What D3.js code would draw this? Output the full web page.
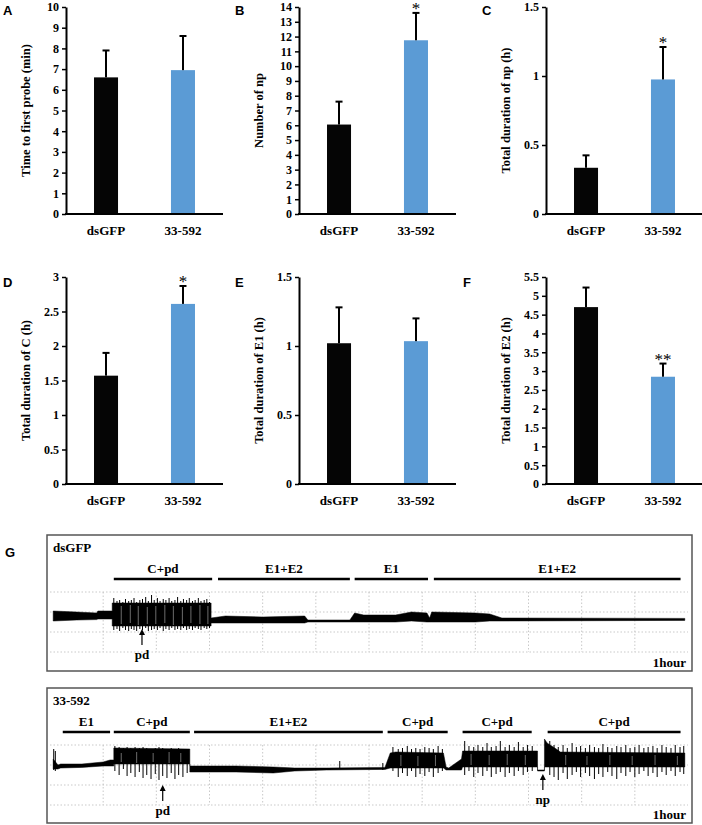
<!DOCTYPE html>
<html>
<head>
<meta charset="utf-8">
<script src="https://cdn.jsdelivr.net/npm/d3@7"></script>
<style>
body { margin: 0; background: #fff; }
svg { display: block; }
</style>
</head>
<body>
<div class="chart"></div>
<script>
// bar panels A-F
const groups = ["dsGFP", "33-592"];
const barColors = ["#050505", "#5b9bd5"];

const firstProbe = [6.6, 6.95];
const firstProbeErr = [1.3, 1.65];
const npCount = [6.05, 11.75];
const npCountErr = [1.55, 1.85];
const npDuration = [0.335, 0.975];
const npDurationErr = [0.09, 0.235];
const cDuration = [1.57, 2.61];
const cDurationErr = [0.33, 0.26];
const e1Duration = [1.02, 1.035];
const e1DurationErr = [0.26, 0.165];
const e2Duration = [4.7, 2.85];
const e2DurationErr = [0.52, 0.35];

const ticksA = [0, 1, 2, 3, 4, 5, 6, 7, 8, 9, 10];
const ticksB = [0, 1, 2, 3, 4, 5, 6, 7, 8, 9, 10, 11, 12, 13, 14];
const ticksC = [0, 0.5, 1, 1.5];
const ticksD = [0, 0.5, 1, 1.5, 2, 2.5, 3];
const ticksE = [0, 0.5, 1, 1.5];
const ticksF = [0, 0.5, 1, 1.5, 2, 2.5, 3, 3.5, 4, 4.5, 5, 5.5];

const starsA = ["", ""];
const starsB = ["", "*"];
const starsC = ["", "*"];
const starsD = ["", "*"];
const starsE = ["", ""];
const starsF = ["", "**"];

// panel G: EPG traces, time in hours, signal in grid units
const hourGrid = [1, 2, 3, 4, 5, 6, 7, 8, 9, 10, 11];
const levelGrid = [1, 0, -1, -2];

const phasesCtrl = [["C+pd", 1.2, 3.05], ["E1+E2", 3.16, 5.64], ["E1", 5.73, 7.11], ["E1+E2", 7.22, 11.86]];
const phasesKd = [["E1", 0.24, 1.13], ["C+pd", 1.2, 2.63], ["E1+E2", 2.71, 6.26], ["C+pd", 6.35, 7.48], ["C+pd", 7.76, 9.06], ["C+pd", 9.36, 11.86]];

// [t, top, bottom]
const envCtrl = [
	[0.06, 0.05, -0.45], [0.5, 0.0, -0.4], [0.88, -0.05, -0.38],
	[0.9, 0.05, -0.35], [1.17, 0.05, -0.35], [1.17, 0.45, -0.7], [3.03, 0.45, -0.7],
	[3.03, -0.3, -0.55], [3.3, -0.2, -0.55], [4.0, -0.25, -0.55], [4.79, -0.2, -0.55],
	[4.85, -0.4, -0.5], [5.64, -0.4, -0.5], [5.73, -0.05, -0.5], [5.9, -0.15, -0.5], [6.5, -0.15, -0.5],
	[6.8, 0.0, -0.45], [7.09, -0.05, -0.5], [7.14, -0.3, -0.5], [7.18, 0.0, -0.5],
	[8.0, -0.05, -0.5], [8.27, -0.1, -0.45], [8.5, -0.3, -0.45], [11.94, -0.32, -0.42]
];
const spikesCtrl = [
	[1.2, 0.7, -0.9], [1.26, 0.55, -0.85], [1.31, 0.6, -0.95], [1.37, 0.5, -0.8], [1.42, 0.65, -0.9],
	[1.48, 0.55, -0.95], [1.53, 0.6, -0.85], [1.58, 0.7, -0.9], [1.63, 0.5, -0.95], [1.69, 0.6, -0.85],
	[1.74, 0.65, -0.9], [1.8, 0.75, -0.8], [1.85, 0.55, -0.95], [1.91, 0.85, -0.9], [1.96, 0.6, -0.85],
	[2.02, 0.7, -0.9], [2.07, 0.55, -0.8], [2.13, 0.65, -0.95], [2.18, 0.6, -0.85], [2.24, 0.7, -0.9],
	[2.29, 0.55, -0.8], [2.35, 0.6, -0.9], [2.4, 0.75, -0.85], [2.46, 0.55, -0.9], [2.51, 0.65, -0.8],
	[2.57, 0.6, -0.9], [2.62, 0.7, -0.85], [2.68, 0.55, -0.9], [2.73, 0.6, -0.8], [2.79, 0.7, -0.85],
	[2.84, 0.55, -0.9], [2.9, 0.6, -0.8], [2.95, 0.65, -0.85], [3.0, 0.5, -0.8]
];
// lighter streaks inside the C+pd block
const streaksCtrl = [
	[1.34, 0.3, -0.6], [1.51, 0.35, -0.55], [1.66, 0.3, -0.65], [1.83, 0.25, -0.6], [1.99, 0.3, -0.6],
	[2.16, 0.35, -0.55], [2.32, 0.3, -0.65], [2.49, 0.25, -0.6], [2.65, 0.3, -0.55], [2.82, 0.35, -0.6],
	[2.97, 0.3, -0.6]
];

const envKd = [
	[0.06, 0.3, -0.2], [0.15, 0.0, -0.2], [0.2, 0.05, -0.15], [0.6, 0.05, -0.12],
	[1.0, 0.15, -0.05], [1.13, 0.25, -0.05], [1.2, 0.25, -0.05], [1.2, 0.85, 0.05],
	[2.63, 0.8, 0.05], [2.63, -0.05, -0.35], [3.5, -0.05, -0.35], [4.2, -0.1, -0.4],
	[4.6, -0.15, -0.3], [5.2, -0.15, -0.25], [6.3, -0.12, -0.22], [6.4, 0.6, -0.15],
	[6.5, 0.65, -0.15], [7.4, 0.6, -0.15], [7.45, -0.1, -0.25], [7.5, -0.15, -0.25],
	[7.74, 0.3, -0.25], [7.76, 0.7, -0.1], [9.17, 0.7, -0.1], [9.17, -0.25, -0.3],
	[9.3, -0.25, -0.3], [9.3, 1.3, -0.1], [9.35, 1.1, -0.1], [9.55, 0.75, -0.1],
	[9.6, 0.65, -0.1], [11.94, 0.6, -0.1]
];
const spikesKd = [
	[0.07, 0.8, -0.25], [0.1, 0.7, -0.3],
	[1.22, 0.95, -0.3], [1.3, 0.9, -0.5], [1.38, 0.85, -0.2], [1.45, 0.9, -0.55], [1.52, 0.85, -0.4],
	[1.6, 0.9, -0.6], [1.68, 0.85, -0.35], [1.75, 0.9, -0.65], [1.82, 0.85, -0.5], [1.9, 0.8, -0.7],
	[1.98, 0.85, -0.45], [2.05, 0.9, -0.75], [2.12, 0.85, -0.55], [2.2, 0.8, -0.65], [2.28, 0.85, -0.4],
	[2.35, 0.8, -0.7], [2.42, 0.85, -0.5], [2.5, 0.8, -0.6], [2.58, 0.8, -0.4],
	[5.45, 0.2, -0.2], [6.26, 0.1, -0.25],
	[6.45, 0.9, -0.3], [6.55, 0.8, -0.6], [6.63, 0.85, -0.4], [6.72, 0.95, -0.55], [6.8, 0.8, -0.3],
	[6.88, 0.85, -0.6], [6.96, 0.8, -0.45], [7.05, 0.9, -0.55], [7.13, 0.85, -0.35], [7.21, 0.8, -0.6],
	[7.3, 0.95, -0.4], [7.38, 0.8, -0.3],
	[7.8, 1.2, -0.5], [7.88, 0.95, -0.3], [7.97, 0.9, -0.6], [8.05, 1.0, -0.4], [8.14, 0.9, -0.55],
	[8.22, 1.1, -0.3], [8.3, 0.9, -0.6], [8.39, 0.95, -0.45], [8.47, 1.2, -0.35], [8.56, 0.9, -0.6],
	[8.64, 1.0, -0.4], [8.73, 0.9, -0.55], [8.81, 1.15, -0.3], [8.9, 0.9, -0.5], [8.98, 1.0, -0.35],
	[9.07, 0.95, -0.3],
	[9.4, 1.2, -0.5], [9.48, 1.0, -0.6], [9.56, 0.9, -0.75], [9.65, 1.0, -0.4], [9.73, 0.85, -0.7],
	[9.82, 1.1, -0.5], [9.9, 0.9, -0.35], [9.98, 0.95, -0.6], [10.07, 0.85, -0.4], [10.15, 1.0, -0.55],
	[10.24, 0.9, -0.7], [10.32, 0.85, -0.45], [10.4, 1.05, -0.6], [10.49, 0.9, -0.35], [10.57, 0.85, -0.55],
	[10.66, 0.95, -0.7], [10.74, 0.9, -0.4], [10.83, 1.0, -0.55], [10.91, 0.85, -0.35], [11.0, 0.9, -0.6],
	[11.08, 1.0, -0.45], [11.17, 0.85, -0.3], [11.25, 0.9, -0.55], [11.34, 0.95, -0.4], [11.42, 0.85, -0.6],
	[11.51, 1.0, -0.35], [11.59, 0.9, -0.5], [11.68, 0.85, -0.3], [11.76, 1.0, -0.55], [11.85, 0.9, -0.35],
	[11.92, 0.95, -0.45]
];
const streaksKd = [
	[1.34, 0.6, 0.15], [1.63, 0.65, 0.1], [1.94, 0.6, 0.15], [2.24, 0.65, 0.1], [2.46, 0.6, 0.15],
	[6.6, 0.5, -0.05], [6.92, 0.45, -0.05], [7.25, 0.5, -0.05],
	[7.92, 0.55, 0.0], [8.26, 0.5, 0.0], [8.6, 0.55, 0.0], [8.94, 0.5, 0.0],
	[9.7, 0.5, 0.0], [10.1, 0.45, 0.0], [10.53, 0.5, 0.0], [10.95, 0.45, 0.0], [11.38, 0.5, 0.0], [11.8, 0.45, 0.0]
];

// arrows: [label, t, head level]
const marksCtrl = [["pd", 1.73, -0.85]];
const marksKd = [["pd", 2.12, -1.0], ["np", 9.27, -0.45]];

const serifFont = '"Liberation Serif", "Times New Roman", "DejaVu Serif", serif';
const sansFont = '"Liberation Sans", Arial, sans-serif';

const width = 702;
const height = 825;
const svg = d3.select(".chart")
	.append("svg")
	.attr("width", width)
	.attr("height", height);

const boldSerif = (sel, size) => sel
	.style("font-family", serifFont)
	.style("font-weight", "bold")
	.style("font-size", `${size}px`)
	.attr("fill", "#000");

const panels = [
	{ letter: "A", lx: 3, title: "Time to first probe (min)", values: firstProbe, errors: firstProbeErr, ticks: ticksA, stars: starsA, col: 0, row: 0 },
	{ letter: "B", lx: 235, title: "Number of np", values: npCount, errors: npCountErr, ticks: ticksB, stars: starsB, col: 1, row: 0 },
	{ letter: "C", lx: 482, title: "Total duration of np (h)", values: npDuration, errors: npDurationErr, ticks: ticksC, stars: starsC, col: 2, row: 0 },
	{ letter: "D", lx: 3, title: "Total duration of C (h)", values: cDuration, errors: cDurationErr, ticks: ticksD, stars: starsD, col: 0, row: 1 },
	{ letter: "E", lx: 235, title: "Total duration of E1 (h)", values: e1Duration, errors: e1DurationErr, ticks: ticksE, stars: starsE, col: 1, row: 1 },
	{ letter: "F", lx: 463, title: "Total duration of E2 (h)", values: e2Duration, errors: e2DurationErr, ticks: ticksF, stars: starsF, col: 2, row: 1 }
];
const colX = [66, 299, 546];
const rowBase = [214, 484];
const axisH = 207;
const axisW = 157;

panels.forEach((p) => {
	const x0 = colX[p.col];
	const base = rowBase[p.row];
	const g = svg.append("g");

	const y = d3.scaleLinear()
		.domain([0, d3.max(p.ticks)])
		.range([base, base - axisH]);
	const x = d3.scaleBand()
		.domain(groups)
		.range([x0, x0 + axisW])
		.paddingInner(0.688)
		.paddingOuter(0.364);
	const cx = (i) => x(groups[i]) + x.bandwidth() / 2;

	g.append("text")
		.attr("x", p.lx)
		.attr("y", base - axisH + 8 + (p.row ? 2 : 0))
		.style("font-family", sansFont)
		.style("font-weight", "bold")
		.style("font-size", "13px")
		.text(p.letter);

	// bars
	g.selectAll("rect")
		.data(p.values)
		.enter()
		.append("rect")
			.attr("x", (d, i) => x(groups[i]))
			.attr("y", (d) => y(d))
			.attr("width", x.bandwidth())
			.attr("height", (d) => base - y(d))
			.attr("fill", (d, i) => barColors[i]);

	// error bars
	const err = g.selectAll("g.err")
		.data(p.values)
		.enter()
		.append("g")
			.attr("class", "err")
			.attr("stroke", "#000")
			.attr("stroke-width", 2);
	err.append("line")
		.attr("x1", (d, i) => cx(i))
		.attr("x2", (d, i) => cx(i))
		.attr("y1", (d) => y(d))
		.attr("y2", (d, i) => y(d + p.errors[i]));
	err.append("line")
		.attr("x1", (d, i) => cx(i) - 3.5)
		.attr("x2", (d, i) => cx(i) + 3.5)
		.attr("y1", (d, i) => y(d + p.errors[i]))
		.attr("y2", (d, i) => y(d + p.errors[i]));

	g.selectAll("text.star")
		.data(p.stars)
		.enter()
		.append("text")
			.attr("class", "star")
			.attr("x", (d, i) => cx(i))
			.attr("y", (d, i) => y(p.values[i] + p.errors[i]) + 1)
			.attr("text-anchor", "middle")
			.style("font-family", serifFont)
			.style("font-size", "17px")
			.text((d) => d);

	// y axis
	const ya = g.append("g")
		.attr("transform", `translate(${x0},0)`)
		.call(d3.axisLeft(y).tickValues(p.ticks).tickSize(4).tickSizeOuter(0).tickPadding(3).tickFormat((d) => d));
	ya.select(".domain").attr("stroke-width", 2);
	ya.selectAll(".tick line").attr("stroke-width", 1.5);
	ya.selectAll(".tick text").call(boldSerif, 12);

	// x axis line and labels
	g.append("line")
		.attr("x1", x0 - 1)
		.attr("x2", x0 + axisW)
		.attr("y1", base)
		.attr("y2", base)
		.attr("stroke", "#000")
		.attr("stroke-width", 2);
	g.selectAll("text.cat")
		.data(groups)
		.enter()
		.append("text")
			.attr("class", "cat")
			.attr("x", (d, i) => cx(i))
			.attr("y", base + 21)
			.attr("text-anchor", "middle")
			.call(boldSerif, 13)
			.text((d) => d);

	g.append("text")
		.attr("transform", `translate(${x0 - 36},${base - axisH / 2}) rotate(-90)`)
		.attr("text-anchor", "middle")
		.call(boldSerif, 12.5)
		.text(p.title);
});

// panel G
svg.append("text")
	.attr("x", 5)
	.attr("y", 557)
	.style("font-family", sansFont)
	.style("font-weight", "bold")
	.style("font-size", "13px")
	.text("G");

const tScale = d3.scaleLinear().domain([0, 12]).range([50, 688]);

const drawTrace = (top, bottom, name, phases, env, spikes, streaks, marks) => {
	const g = svg.append("g");
	const y = d3.scaleLinear().domain([-2, 1]).range([top + 117, top + 57]);

	g.append("rect")
		.attr("x", 47)
		.attr("y", top)
		.attr("width", 645)
		.attr("height", bottom - top)
		.attr("fill", "none")
		.attr("stroke", "#555")
		.attr("stroke-width", 1.5);

	// dotted grid
	g.selectAll("line.h")
		.data(levelGrid)
		.enter()
		.append("line")
			.attr("x1", tScale(0))
			.attr("x2", tScale(12))
			.attr("y1", (d) => y(d))
			.attr("y2", (d) => y(d))
			.attr("stroke", "#bbb")
			.attr("stroke-width", 0.8)
			.attr("stroke-dasharray", "1.5,2");
	g.selectAll("line.v")
		.data(hourGrid)
		.enter()
		.append("line")
			.attr("x1", (d) => tScale(d))
			.attr("x2", (d) => tScale(d))
			.attr("y1", y(1))
			.attr("y2", y(-2))
			.attr("stroke", "#bbb")
			.attr("stroke-width", 0.8)
			.attr("stroke-dasharray", "1.5,2");

	g.append("text")
		.attr("x", 53)
		.attr("y", top + 17)
		.call(boldSerif, 13)
		.text(name);

	// phase bars
	const ph = g.selectAll("g.phase")
		.data(phases)
		.enter()
		.append("g");
	ph.append("line")
		.attr("x1", (d) => tScale(d[1]))
		.attr("x2", (d) => tScale(d[2]))
		.attr("y1", top + 44)
		.attr("y2", top + 44)
		.attr("stroke", "#000")
		.attr("stroke-width", 2.5);
	ph.append("text")
		.attr("x", (d) => tScale((d[1] + d[2]) / 2))
		.attr("y", top + 38)
		.attr("text-anchor", "middle")
		.call(boldSerif, 13)
		.text((d) => d[0]);

	// signal
	const area = d3.area()
		.x((d) => tScale(d[0]))
		.y0((d) => y(d[2]))
		.y1((d) => y(d[1]));
	g.append("path")
		.datum(env)
		.attr("d", area)
		.attr("fill", "#000")
		.attr("stroke", "#000")
		.attr("stroke-width", 0.5);
	g.selectAll("line.spike")
		.data(spikes)
		.enter()
		.append("line")
			.attr("x1", (d) => tScale(d[0]))
			.attr("x2", (d) => tScale(d[0]))
			.attr("y1", (d) => y(d[1]))
			.attr("y2", (d) => y(d[2]))
			.attr("stroke", "#000")
			.attr("stroke-width", 1);
	g.selectAll("line.streak")
		.data(streaks)
		.enter()
		.append("line")
			.attr("x1", (d) => tScale(d[0]))
			.attr("x2", (d) => tScale(d[0]))
			.attr("y1", (d) => y(d[1]))
			.attr("y2", (d) => y(d[2]))
			.attr("stroke", "#888")
			.attr("stroke-width", 0.8);

	// arrows
	const mk = g.selectAll("g.mark")
		.data(marks)
		.enter()
		.append("g");
	mk.append("line")
		.attr("x1", (d) => tScale(d[1]))
		.attr("x2", (d) => tScale(d[1]))
		.attr("y1", (d) => y(d[2]) + 2)
		.attr("y2", (d) => y(d[2]) + 16)
		.attr("stroke", "#000")
		.attr("stroke-width", 1.2);
	mk.append("path")
		.attr("d", (d) => {
			const ax = tScale(d[1]);
			const ay = y(d[2]);
			return `M ${ax} ${ay} L ${ax - 3} ${ay + 6} L ${ax + 3} ${ay + 6} Z`;
		})
		.attr("fill", "#000");
	mk.append("text")
		.attr("x", (d) => tScale(d[1]))
		.attr("y", (d) => y(d[2]) + 30)
		.attr("text-anchor", "middle")
		.call(boldSerif, 13)
		.text((d) => d[0]);

	g.append("text")
		.attr("x", 686)
		.attr("y", bottom - 4)
		.attr("text-anchor", "end")
		.call(boldSerif, 13)
		.text("1hour");
};

drawTrace(535, 671, "dsGFP", phasesCtrl, envCtrl, spikesCtrl, streaksCtrl, marksCtrl);
drawTrace(688, 823, "33-592", phasesKd, envKd, spikesKd, streaksKd, marksKd);
</script>
</body>
</html>
